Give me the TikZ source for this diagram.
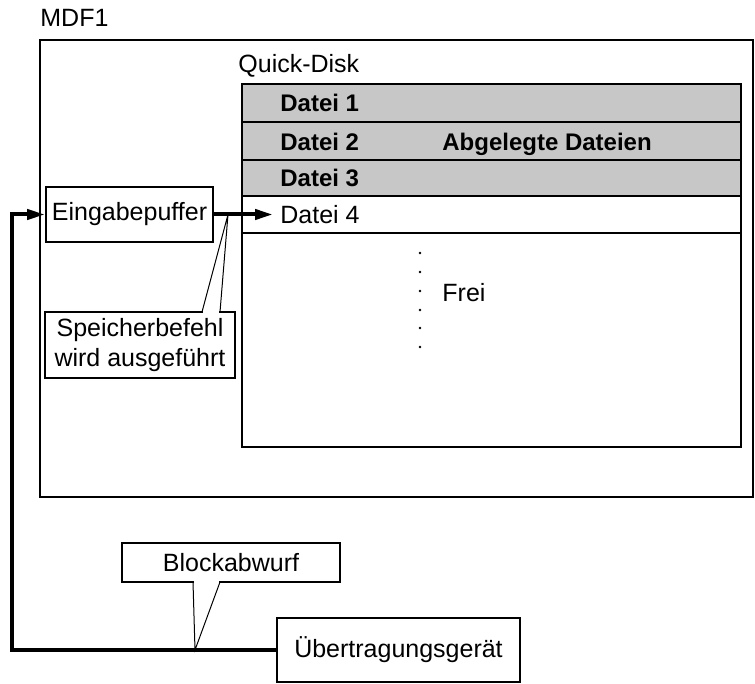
\documentclass[tikz,border=0pt]{standalone}
\usepackage{fontspec}
\setmainfont{Liberation Sans}
\usetikzlibrary{arrows.meta}

\tikzset{
  kasten/.style={draw, line width=0.9pt, inner sep=0pt, fill=white},
  schrift/.style={inner sep=0pt, anchor=base west},
  fett/.style={schrift, font=\fontsize{12}{15}\selectfont\bfseries},
  dickpfeil/.style={line width=2pt, -{Triangle[length=9pt,width=5pt]}},
  spitze/.style={line width=0.5pt},
}

\begin{document}
\begin{tikzpicture}[x=0.5pt, y=-0.5pt, font=\fontsize{12.5}{15}\selectfont]
\useasboundingbox (0,0) rectangle (755,684);

% Rechner MDF1
\node[schrift] (mdf) at (40,27) {MDF1};
\draw[line width=1pt] (40,40) rectangle (753,497);

% Quick-Disk
\node[schrift] (qd) at (238,73) {Quick-Disk};
\fill[black!22] (242,84) rectangle (741,196);
\draw[line width=1pt] (242,84) rectangle (741,447);
\draw[line width=1pt] (242,122) -- (741,122);
\draw[line width=1pt] (242,160) -- (741,160);
\draw[line width=1pt] (242,196) -- (741,196);
\draw[line width=1pt] (242,233) -- (741,233);

% Dateien
\node[fett] (datei1) at (280,112) {Datei 1};
\node[fett] (datei2) at (280,151) {Datei 2};
\node[fett] (datei3) at (280,187) {Datei 3};
\node[schrift] (datei4) at (280,224) {Datei 4};
\node[fett] (abgelegt) at (442,151) {Abgelegte Dateien};

% Freier Bereich
\node[schrift] (frei) at (442,301) {Frei};
\fill (420,253) circle (1.3);
\fill (420,272) circle (1.3);
\fill (420,291) circle (1.3);
\fill (420,310) circle (1.3);
\fill (420,328) circle (1.3);
\fill (420,347) circle (1.3);

% Eingabepuffer
\node[kasten, minimum width=83.5pt, minimum height=27.5pt] (puffer) at (129.5,214.5) {Eingabepuffer};

% Speicherbefehl
\node[kasten, align=center, minimum width=95pt, minimum height=33pt] (speicher) at (140,345) {Speicherbefehl\\wird ausgeführt};
\coordinate (sbspitze) at (228,214.5);
\coordinate (sblinks) at (202,312);
\coordinate (sbrechts) at (220,312);
\fill[white] ([shift={(0.4pt,-1pt)}]sblinks) rectangle ([shift={(-0.4pt,1pt)}]sbrechts);
\draw[spitze] (sblinks) -- (sbspitze) -- (sbrechts);

% Pfeil in Datei 4
\coordinate (ziel) at (273,214.5);
\draw[dickpfeil] (puffer.east) -- (ziel);

% Übertragungsgerät
\node[kasten, minimum width=121.5pt, minimum height=32pt] (geraet) at (398.5,650) {Übertragungsgerät};
\coordinate (links) at (12,0);
\draw[dickpfeil] (geraet.west) -- (geraet.west -| links) |- (puffer.west);

% Blockabwurf
\node[kasten, minimum width=109pt, minimum height=19.5pt] (block) at (231,562.5) {Blockabwurf};
\coordinate (baspitze) at (195,650);
\coordinate (balinks) at (193,582);
\coordinate (barechts) at (220,582);
\fill[white] ([shift={(0.4pt,1pt)}]balinks) rectangle ([shift={(-0.4pt,-1pt)}]barechts);
\draw[spitze] (balinks) -- (baspitze) -- (barechts);

\end{tikzpicture}
\end{document}
